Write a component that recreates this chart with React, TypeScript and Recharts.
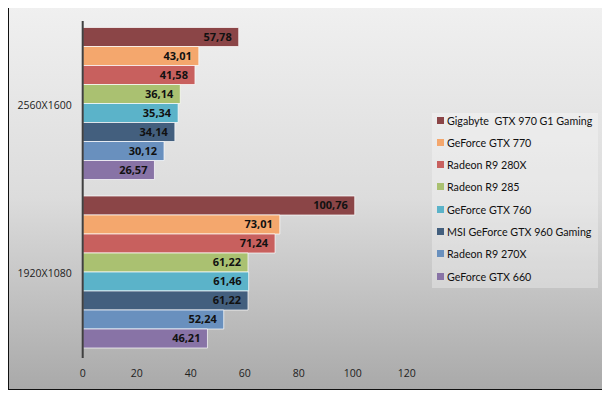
import React from 'react';
import { BarChart, Bar, XAxis, YAxis, LabelList } from 'recharts';

const resolutions = ['2560X1600', '1920X1080'];

const gpuNames = [
  'Gigabyte  GTX 970 G1 Gaming',
  'GeForce GTX 770',
  'Radeon R9 280X',
  'Radeon R9 285',
  'GeForce GTX 760',
  'MSI GeForce GTX 960 Gaming',
  'Radeon R9 270X',
  'GeForce GTX 660',
];

const gigabyte970 = [57.78, 100.76];
const gtx770 = [43.01, 73.01];
const r9280x = [41.58, 71.24];
const r9285 = [36.14, 61.22];
const gtx760 = [35.34, 61.46];
const msi960 = [34.14, 61.22];
const r9270x = [30.12, 52.24];
const gtx660 = [26.57, 46.21];

const xTicks = [0, 20, 40, 60, 80, 100, 120];

const seriesValues = [gigabyte970, gtx770, r9280x, r9285, gtx760, msi960, r9270x, gtx660];
const colors = ['#8b4547', '#f4a76d', '#c8605e', '#aac171', '#5bb3c9', '#435f7e', '#6990be', '#8873a6'];

const data = resolutions.map((res, i) => {
  const row: Record<string, string | number> = { name: res };
  seriesValues.forEach((vals, s) => {
    row['s' + s] = vals[i];
  });
  return row;
});

const fmt = (v: any) => Number(v).toFixed(2).replace('.', ',');

const numFont = '"Open Sans", sans-serif';
const legendFont = 'Lato, "Open Sans", sans-serif';

const LegendBox = () => (
  <div
    style={{
      position: 'absolute',
      left: 424,
      top: 107,
      width: 166,
      height: 175,
      background: 'rgba(255,255,255,0.3)',
      fontFamily: legendFont,
      fontSize: 10.7,
      color: '#111',
    }}
  >
    {gpuNames.map((n, i) => (
      <div
        key={n}
        style={{
          position: 'absolute',
          left: 5,
          top: 7 + i * 22.3 - 7,
          height: 14,
          display: 'flex',
          alignItems: 'center',
          whiteSpace: 'pre',
        }}
      >
        <span style={{ width: 7, height: 7, background: colors[i], marginRight: 3, display: 'inline-block' }} />
        {n}
      </div>
    ))}
  </div>
);

export default function App() {
  return (
    <div
      style={{
        position: 'relative',
        width: 598,
        height: 384,
        marginTop: -2,
        fontFamily: numFont,
        background: 'linear-gradient(to bottom, #f0f0f0 0%, #dcdcdc 50%, #a9a9a9 100%)',
        boxShadow: '2px 2px 3px rgba(0,0,0,0.35)',
      }}
    >
      <BarChart
        width={598}
        height={384}
        data={data}
        layout="vertical"
        margin={{ top: 15, right: 199.3, bottom: 2, left: 0 }}
        barCategoryGap={6.5}
        barGap={0}
        style={{ fontFamily: numFont }}
      >
        <XAxis
          type="number"
          domain={[0, 120]}
          ticks={xTicks}
          axisLine={false}
          tickLine={false}
          tickSize={0}
          tickMargin={12}
          height={30}
          tick={{ fill: '#222', fontSize: 10.5, fontFamily: numFont }}
        />
        <YAxis
          type="category"
          dataKey="name"
          width={74.7}
          axisLine={{ stroke: '#404040', strokeWidth: 2 }}
          tickLine={false}
          tickSize={0}
          tickMargin={11}
          tick={{ fill: '#222', fontSize: 10.5, fontFamily: numFont }}
        />
        {gpuNames.map((n, i) => (
          <Bar
            key={n}
            dataKey={'s' + i}
            name={n}
            fill={colors[i]}
            stroke="rgba(255,255,255,0.7)"
            strokeWidth={1}
            isAnimationActive={false}
          >
            <LabelList
              dataKey={'s' + i}
              position="insideRight"
              offset={7}
              formatter={fmt}
              style={{ fill: '#111', fontSize: 11, fontWeight: 'bold', fontFamily: numFont }}
            />
          </Bar>
        ))}
      </BarChart>
      <LegendBox />
      <div
        style={{
          position: 'absolute',
          inset: 0,
          border: '1.5px solid #111',
          boxSizing: 'border-box',
          pointerEvents: 'none',
        }}
      />
    </div>
  );
}
